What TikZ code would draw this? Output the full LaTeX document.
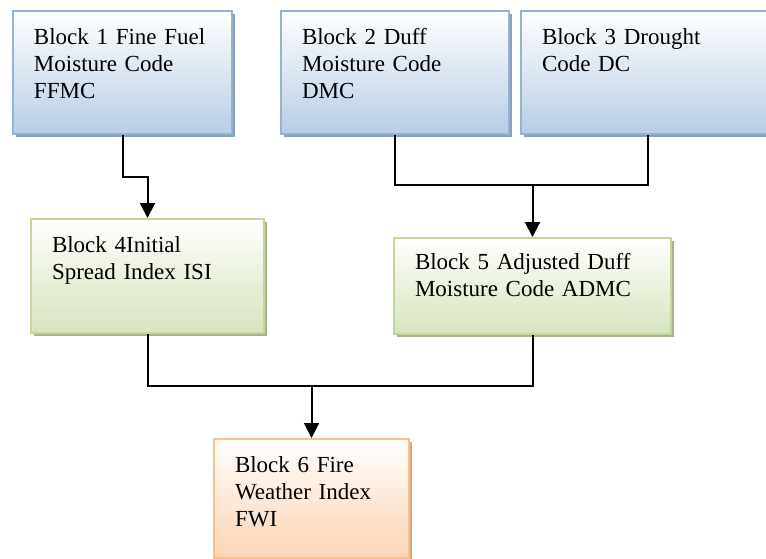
\documentclass[tikz,border=0pt]{standalone}
\usepackage{fontspec}
\setmainfont{Liberation Serif}
\usepackage{tikz}
\usetikzlibrary{arrows.meta,positioning,shadows}
\definecolor{fwiblueline}{HTML}{95B3D7}
\definecolor{fwiblue}{HTML}{B9CDE5}
\definecolor{fwiblueshade}{HTML}{8E9FB6}
\definecolor{fwigreenline}{HTML}{C3D69B}
\definecolor{fwigreen}{HTML}{D7E4BD}
\definecolor{fwigreenshade}{HTML}{A8B290}
\definecolor{fwiorangeline}{HTML}{FAC090}
\definecolor{fwiorange}{HTML}{FBD4B4}
\definecolor{fwiorangeshade}{HTML}{D9A57E}

\begin{document}
\begin{tikzpicture}[
  x=1pt,y=-1pt,
  block/.style={rectangle,anchor=north west,line width=2pt,align=left,
    inner xsep=21pt,inner ysep=0pt,text height=33pt,
    font=\fontsize{23}{27}\selectfont},
  bluebox/.style={block,draw=fwiblueline,top color=white,bottom color=fwiblue,
    drop shadow={shadow xshift=3pt,shadow yshift=-3pt,fill=fwiblueshade,opacity=1}},
  greenbox/.style={block,draw=fwigreenline,top color=white,bottom color=fwigreen,
    drop shadow={shadow xshift=3pt,shadow yshift=-3pt,fill=fwigreenshade,opacity=1}},
  orangebox/.style={block,draw=fwiorangeline,top color=white,bottom color=fwiorange,
    drop shadow={shadow xshift=3pt,shadow yshift=-3pt,fill=fwiorangeshade,opacity=1}},
  link/.style={line width=2pt},
  arr/.style={link,-{Triangle[length=15pt,width=15pt]}}
]
\path[use as bounding box] (0,0) rectangle (766,558);
\clip (0,0) rectangle (766,558);
% top row
\node[bluebox,text width=177pt,text depth=90pt] (ffmc) at (12,10)
  {Block 1 Fine Fuel\\Moisture Code\\FFMC};
\node[bluebox,text width=186pt,text depth=90pt] (dmc) at (280,10)
  {Block 2 Duff\\Moisture Code\\DMC};
\node[bluebox,text width=212pt,text depth=90pt] (dc) at (520,10)
  {Block 3 Drought\\Code DC};
% middle row
\node[greenbox,text width=191pt,text depth=81pt] (isi) at (30,218)
  {Block 4Initial\\Spread Index ISI};
\node[greenbox,text width=235pt,text height=31pt,text depth=65pt] (admc) at (393,237)
  {Block 5 Adjusted Duff\\Moisture Code ADMC};
% bottom
\node[orangebox,text width=153pt,text depth=86pt] (fwi) at (213,438)
  {Block 6 Fire\\Weather Index\\FWI};
% connectors
\draw[arr] (ffmc.south) -- ++(0,42) -| (isi.north);
\draw[link] (dmc.south) -- ++(0,50) coordinate (dmcjoin) -| (dc.south);
\draw[arr] (dmcjoin -| admc.north) -- (admc.north);
\draw[link] (isi.south) -- ++(0,52) coordinate (isijoin) -| (admc.south);
\draw[arr] (isijoin -| fwi.north) -- (fwi.north);
\end{tikzpicture}
\end{document}
